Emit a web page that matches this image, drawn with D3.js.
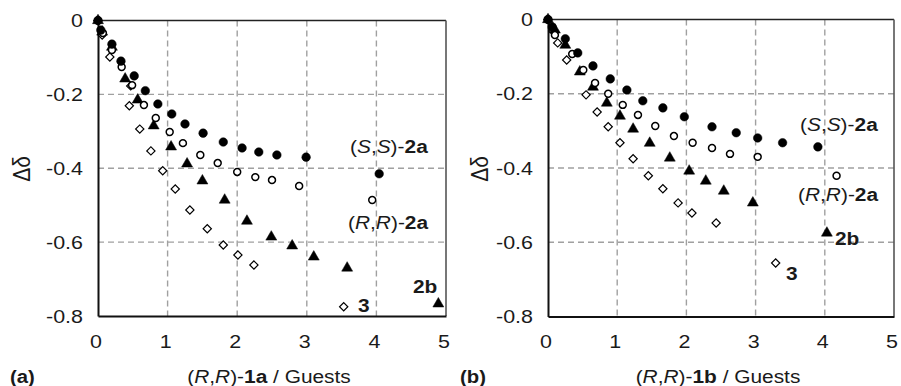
<!DOCTYPE html>
<html>
<head>
<meta charset="utf-8">
<script src="https://cdn.jsdelivr.net/npm/d3@7"></script>
<style>
  body { margin: 0; background: #fff; }
  svg { display: block; font-family: "Liberation Sans", Arial, sans-serif; }
</style>
</head>
<body>
<div id="chart"></div>
<script>
// tick values
const xTicks = [0, 1, 2, 3, 4, 5]
const yTicks = [0, -0.2, -0.4, -0.6, -0.8]

// panel (a): (R,R)-1a with guests, [equiv, delta]
const ssA = [[0, 0], [0.04, -0.026], [0.2, -0.064], [0.33, -0.11], [0.52, -0.15], [0.68, -0.19], [0.86, -0.226], [1.06, -0.253], [1.25, -0.28], [1.51, -0.305], [1.8, -0.329], [2.07, -0.345], [2.31, -0.356], [2.57, -0.364], [2.99, -0.37], [4.04, -0.415]]
const rrA = [[0, 0], [0.07, -0.034], [0.2, -0.08], [0.34, -0.126], [0.49, -0.175], [0.66, -0.229], [0.83, -0.264], [1.03, -0.302], [1.22, -0.332], [1.47, -0.364], [1.72, -0.386], [2.0, -0.41], [2.26, -0.424], [2.5, -0.432], [2.89, -0.448], [3.94, -0.486]]
const bA = [[0, 0], [0.06, -0.031], [0.2, -0.072], [0.39, -0.158], [0.57, -0.215], [0.8, -0.285], [1.05, -0.342], [1.28, -0.388], [1.5, -0.434], [1.82, -0.486], [2.14, -0.543], [2.49, -0.586], [2.79, -0.61], [3.1, -0.64], [3.58, -0.67], [4.89, -0.767]]
const g3A = [[0, 0], [0.06, -0.039], [0.17, -0.099], [0.47, -0.177], [0.45, -0.231], [0.6, -0.294], [0.76, -0.353], [0.93, -0.407], [1.11, -0.456], [1.32, -0.513], [1.57, -0.564], [1.8, -0.608], [2.01, -0.635], [2.24, -0.662], [3.53, -0.775]]

// panel (b): (R,R)-1b with guests
const ssB = [[0, 0], [0.06, -0.02], [0.25, -0.052], [0.43, -0.09], [0.65, -0.125], [0.9, -0.16], [1.14, -0.19], [1.37, -0.219], [1.66, -0.238], [1.97, -0.262], [2.37, -0.289], [2.72, -0.305], [3.03, -0.319], [3.39, -0.332], [3.9, -0.343]]
const rrB = [[0, 0], [0.1, -0.042], [0.35, -0.093], [0.51, -0.136], [0.68, -0.171], [0.87, -0.2], [1.08, -0.23], [1.3, -0.257], [1.55, -0.287], [1.82, -0.314], [2.09, -0.332], [2.37, -0.346], [2.63, -0.362], [3.03, -0.37], [4.17, -0.421]]
const bB = [[0, 0], [0.1, -0.028], [0.25, -0.069], [0.46, -0.141], [0.65, -0.182], [0.85, -0.225], [1.04, -0.26], [1.23, -0.295], [1.47, -0.333], [1.76, -0.373], [2.04, -0.408], [2.28, -0.435], [2.54, -0.462], [2.96, -0.494], [4.03, -0.575]]
const g3B = [[0, 0], [0.07, -0.031], [0.14, -0.063], [0.27, -0.109], [0.55, -0.203], [0.71, -0.249], [0.87, -0.289], [1.04, -0.332], [1.23, -0.375], [1.45, -0.421], [1.66, -0.456], [1.88, -0.494], [2.08, -0.521], [2.43, -0.548], [3.29, -0.656]]

const W = 901, H = 386
const stretch = 1.16 // source picture text is a bit wide

const svg = d3.select('#chart').append('svg')
  .attr('width', W)
  .attr('height', H)

// put a text made of styled parts at x,y
function label(g, x, y, parts, opts = {}) {
  const t = g.append('text')
    .attr('transform', `translate(${x},${y}) scale(${stretch},1)` + (opts.rotate ? ` rotate(${opts.rotate})` : ''))
    .attr('text-anchor', opts.anchor || 'start')
    .attr('font-size', opts.size || 18)
    .attr('fill', '#1a1a1a')
  parts.forEach(p => {
    const s = t.append('tspan').text(p.t)
    if (p.i) s.attr('font-style', 'italic')
    if (p.b) s.attr('font-weight', 'bold')
  })
  return t
}

const panels = [
  {
    x0: 98, x1: 446, y0: 20.5, y1: 316,
    tag: '(a)', tagX: 10, guest: '1a', dX: 23,
    ss: ssA, rr: rrA, b: bA, g3: g3A,
    labels: [
      { x: 350, y: 153, parts: [{ t: '(' }, { t: 'S', i: 1 }, { t: ',' }, { t: 'S', i: 1 }, { t: ')-' }, { t: '2a', b: 1 }] },
      { x: 348, y: 229, parts: [{ t: '(' }, { t: 'R', i: 1 }, { t: ',' }, { t: 'R', i: 1 }, { t: ')-' }, { t: '2a', b: 1 }] },
      { x: 413, y: 293, parts: [{ t: '2b', b: 1 }] },
      { x: 358, y: 312, parts: [{ t: '3', b: 1 }] }
    ]
  },
  {
    x0: 548, x1: 894, y0: 19.5, y1: 316.5,
    tag: '(b)', tagX: 460, guest: '1b', dX: 481,
    ss: ssB, rr: rrB, b: bB, g3: g3B,
    labels: [
      { x: 800, y: 131, parts: [{ t: '(' }, { t: 'S', i: 1 }, { t: ',' }, { t: 'S', i: 1 }, { t: ')-' }, { t: '2a', b: 1 }] },
      { x: 798, y: 201, parts: [{ t: '(' }, { t: 'R', i: 1 }, { t: ',' }, { t: 'R', i: 1 }, { t: ')-' }, { t: '2a', b: 1 }] },
      { x: 835, y: 245, parts: [{ t: '2b', b: 1 }] },
      { x: 786, y: 280, parts: [{ t: '3', b: 1 }] }
    ]
  }
]

panels.forEach(p => {
  const x = d3.scaleLinear().domain([0, 5]).range([p.x0, p.x1])
  const y = d3.scaleLinear().domain([0, -0.8]).range([p.y0, p.y1])
  const g = svg.append('g')

  // dashed grid
  g.append('g').selectAll('line')
    .data(xTicks.slice(1, -1))
    .enter().append('line')
    .attr('x1', d => x(d)).attr('x2', d => x(d))
    .attr('y1', p.y0).attr('y2', p.y1)
    .attr('stroke', '#a0a0a0').attr('stroke-width', 1.4)
    .attr('stroke-dasharray', '6,4')
  g.append('g').selectAll('line')
    .data(yTicks.slice(1, -1))
    .enter().append('line')
    .attr('x1', p.x0).attr('x2', p.x1)
    .attr('y1', d => y(d)).attr('y2', d => y(d))
    .attr('stroke', '#a0a0a0').attr('stroke-width', 1.4)
    .attr('stroke-dasharray', '6,4')

  // frame: top and right
  g.append('line').attr('x1', p.x0).attr('x2', p.x1).attr('y1', p.y0).attr('y2', p.y0)
    .attr('stroke', '#222').attr('stroke-width', 1.6)
  g.append('line').attr('x1', p.x1).attr('x2', p.x1).attr('y1', p.y0).attr('y2', p.y1)
    .attr('stroke', '#555').attr('stroke-width', 1.6)

  // axes
  const fmt = d => d === 0 ? '0' : d3.format('.1f')(d).replace('−', '-')
  const xAxis = g.append('g')
    .attr('transform', `translate(0,${p.y1})`)
    .call(d3.axisBottom(x).tickValues(xTicks).tickSize(0).tickFormat(d3.format('d')))
  xAxis.select('.domain').attr('stroke', '#111').attr('stroke-width', 2)
  xAxis.selectAll('text').remove()
  xTicks.forEach(d => label(g, x(d) - 2, 348, [{ t: String(d) }], { anchor: 'middle', size: 18.5 }))

  const yAxis = g.append('g')
    .attr('transform', `translate(${p.x0},0)`)
    .call(d3.axisLeft(y).tickValues(yTicks).tickSize(0).tickFormat(fmt))
  yAxis.select('.domain').attr('stroke', '#111').attr('stroke-width', 2)
  yAxis.selectAll('text').remove()
  yTicks.forEach(d => label(g, p.x0 - 15, y(d) + 6.5, [{ t: fmt(d) }], { anchor: 'end', size: 18.5 }))

  // axis titles
  label(g, (p.x0 + p.x1) / 2 - 3, 383, [{ t: '(' }, { t: 'R', i: 1 }, { t: ',' }, { t: 'R', i: 1 }, { t: ')-' }, { t: p.guest, b: 1 }, { t: ' / Guests' }], { anchor: 'middle' })
  label(g, p.tagX, 383, [{ t: p.tag, b: 1 }], { size: 17.5 })
  label(g, p.dX + 7, 169, [{ t: 'Δδ' }], { anchor: 'middle', rotate: -90, size: 21 })

  // markers
  const marks = g.append('g')
  const draw = (data, type, size, fill, sw, rot = 0) => {
    marks.append('g').selectAll('path')
      .data(data)
      .enter().append('path')
      .attr('transform', d => `translate(${x(d[0])},${y(d[1])}) rotate(${rot})`)
      .attr('d', d3.symbol().type(type).size(size))
      .attr('fill', fill)
      .attr('stroke', '#000')
      .attr('stroke-width', sw)
  }
  draw(p.g3, d3.symbolSquare, 34, '#fff', 1.2, 45)
  draw(p.b, d3.symbolTriangle, 52, '#000', 0.5)
  draw(p.rr, d3.symbolCircle, 38, '#fff', 1.5)
  draw(p.ss, d3.symbolCircle, 58, '#000', 0.5)

  p.labels.forEach(l => label(g, l.x, l.y, l.parts))
})
</script>
</body>
</html>
